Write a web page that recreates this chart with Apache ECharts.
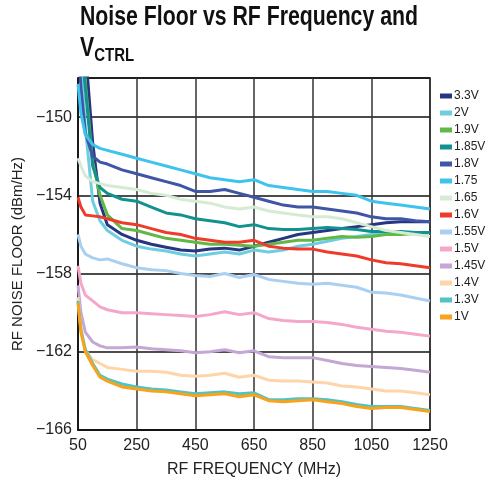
<!DOCTYPE html>
<html>
<head>
<meta charset="utf-8">
<script src="https://cdn.jsdelivr.net/npm/echarts@6/dist/echarts.min.js"></script>
<style>
  html, body { margin: 0; padding: 0; background: #fff; }
  #main { width: 492px; height: 488px; }
</style>
</head>
<body>
<div id="main"></div>
<script>
  var FONT = "'Liberation Sans', Arial, sans-serif";

  // RF frequency (MHz)
  var freq = [50, 60, 75, 100, 125, 150, 200, 250, 300, 350, 400, 450, 500, 550, 600,
              650, 700, 750, 800, 850, 900, 950, 1000, 1050, 1100, 1150, 1200, 1250];

  var xTicks = [50, 250, 450, 650, 850, 1050, 1250];
  var yTicks = [-166, -162, -158, -154, -150];

  var names = ['3.3V', '2V', '1.9V', '1.85V', '1.8V', '1.75', '1.65', '1.6V',
               '1.55V', '1.5V', '1.45V', '1.4V', '1.3V', '1V'];
  var colors = ['#283583', '#6fcde0', '#62b847', '#12928f', '#3f55a5', '#3ec3ec', '#d6ebd3',
                '#ee3b2a', '#a9d0f0', '#f5a7c9', '#c4a7d4', '#fdd5a9', '#4fc3c6', '#f8a31b'];

  // noise floor (dBm/Hz)
  var v3p3 = [-140, -143, -146.5, -151.3, -154.4, -155.5, -156.0, -156.3, -156.5, -156.65, -156.8, -156.85, -156.75, -156.7,
              -156.8, -156.6, -156.4, -156.2, -156.0, -155.9, -155.8, -155.7, -155.6, -155.5, -155.4, -155.35, -155.35, -155.35];
  var v2 = [-144, -147, -150.5, -154.3, -155.3, -155.8, -156.3, -156.6, -156.75, -156.85, -157.0, -157.1, -157.0, -156.9,
            -157.0, -156.8, -156.9, -156.8, -156.6, -156.5, -156.35, -156.2, -156.1, -156.0, -156.0, -155.95, -155.95, -155.9];
  var v1p9 = [-142, -145, -148.2, -152.3, -154.0, -155.0, -155.7, -155.8, -156.0, -156.2, -156.3, -156.4, -156.5, -156.5,
              -156.55, -156.6, -156.5, -156.4, -156.3, -156.3, -156.2, -156.1, -156.15, -156.1, -156.0, -156.0, -155.95, -155.9];
  var v1p85 = [-143, -146, -148.5, -152.5, -153.6, -153.9, -154.2, -154.3, -154.6, -154.9, -155.0, -155.2, -155.3, -155.4,
               -155.6, -155.5, -155.7, -155.75, -155.75, -155.7, -155.65, -155.7, -155.75, -155.85, -155.85, -155.85, -155.9, -155.9];
  var v1p8 = [-146, -148.5, -150.8, -152.0, -152.3, -152.4, -152.7, -152.9, -153.1, -153.3, -153.5, -153.8, -153.8, -153.7,
              -153.9, -154.1, -154.3, -154.5, -154.6, -154.6, -154.7, -154.8, -154.9, -155.1, -155.2, -155.2, -155.3, -155.35];
  var v1p75 = [-148.3, -149.8, -150.9, -151.4, -151.6, -151.7, -151.9, -152.1, -152.3, -152.5, -152.7, -152.9, -153.1, -153.2,
               -153.3, -153.2, -153.5, -153.6, -153.7, -153.8, -153.8, -153.9, -154.0, -154.3, -154.4, -154.5, -154.6, -154.7];
  var v1p65 = [-152.1, -152.5, -153.0, -153.3, -153.4, -153.5, -153.6, -153.7, -153.9, -154.0, -154.2, -154.3, -154.4, -154.6,
               -154.7, -154.6, -154.8, -154.9, -155.0, -155.1, -155.1, -155.2, -155.4, -155.6, -155.8, -155.9, -156.0, -156.1];
  var v1p6 = [-154.1, -154.6, -155.0, -155.05, -155.1, -155.2, -155.4, -155.5, -155.7, -155.9, -156.0, -156.2, -156.3, -156.4,
              -156.4, -156.3, -156.6, -156.7, -156.75, -156.75, -156.9, -157.0, -157.1, -157.3, -157.45, -157.5, -157.6, -157.7];
  var v1p55 = [-156.0, -156.6, -157.0, -157.2, -157.3, -157.25, -157.5, -157.7, -157.8, -157.85, -158.0, -158.1, -158.15, -158.0,
               -158.2, -158.05, -158.3, -158.4, -158.5, -158.55, -158.5, -158.6, -158.7, -158.95, -159.0, -159.1, -159.25, -159.4];
  var v1p5 = [-157.6, -158.5, -159.1, -159.4, -159.7, -159.85, -160.0, -160.0, -160.05, -160.1, -160.15, -160.2, -160.1, -159.95,
              -160.1, -160.0, -160.3, -160.4, -160.45, -160.45, -160.5, -160.6, -160.75, -160.85, -160.95, -161.0, -161.1, -161.2];
  var v1p45 = [-158.6, -160.0, -161.0, -161.5, -161.7, -161.8, -161.8, -161.75, -161.85, -161.9, -161.95, -162.05, -162.0, -161.9,
               -162.05, -161.95, -162.25, -162.3, -162.3, -162.3, -162.45, -162.6, -162.7, -162.75, -162.8, -162.85, -162.95, -163.05];
  var v1p4 = [-159.2, -160.8, -161.9, -162.4, -162.6, -162.8, -162.9, -163.0, -163.0, -163.05, -163.2, -163.25, -163.2, -163.1,
              -163.3, -163.2, -163.45, -163.5, -163.5, -163.55, -163.6, -163.75, -163.8, -163.9, -164.0, -164.0, -164.1, -164.2];
  var v1p3 = [-159.4, -160.9, -161.9, -162.6, -163.2, -163.4, -163.65, -163.8, -163.9, -163.95, -164.05, -164.15, -164.1, -164.05,
              -164.15, -164.1, -164.45, -164.45, -164.4, -164.4, -164.45, -164.55, -164.7, -164.8, -164.8, -164.8, -164.9, -165.0];
  var v1 = [-159.5, -161.0, -162.0, -162.7, -163.3, -163.5, -163.8, -163.9, -164.0, -164.05, -164.15, -164.25, -164.2, -164.15,
            -164.3, -164.2, -164.5, -164.55, -164.5, -164.45, -164.55, -164.65, -164.8, -164.9, -164.85, -164.85, -164.95, -165.05];

  var values = [v3p3, v2, v1p9, v1p85, v1p8, v1p75, v1p65, v1p6, v1p55, v1p5, v1p45, v1p4, v1p3, v1];

  // x axis starts at 50 MHz; plot on an offset scale so ticks fall every 200 MHz
  var X0 = xTicks[0];

  var series = names.map(function (n, k) {
    return {
      name: n,
      type: 'line',
      showSymbol: false,
      color: colors[k],
      lineStyle: { width: 3, color: colors[k] },
      data: freq.map(function (f, i) { return [f - X0, values[k][i]]; })
    };
  });

  // the title font is condensed; squeeze a regular bold face to the same width
  var ctx = document.createElement('canvas').getContext('2d');
  function textW(t, font) { ctx.font = font; return ctx.measureText(t).width; }
  var TFONT = 'bold 27px ' + FONT;
  var SFONT = 'bold 19px ' + FONT;
  var titleScale = 338 / textW('Noise Floor vs RF Frequency and', TFONT);

  var chart = echarts.init(document.getElementById('main'));
  chart.setOption({
    animation: false,
    graphic: [
      { type: 'text', x: 80, y: 4, scaleX: titleScale,
        style: { text: 'Noise Floor vs RF Frequency and', font: TFONT, fill: '#111' } },
      { type: 'text', x: 80, y: 35, scaleX: titleScale,
        style: { text: 'V', font: TFONT, fill: '#111' } },
      { type: 'text', x: 80 + textW('V', TFONT) * titleScale, y: 46, scaleX: titleScale,
        style: { text: 'CTRL', font: SFONT, fill: '#111' } }
    ],
    legend: {
      orient: 'vertical',
      left: 435,
      top: 85,
      itemWidth: 12,
      itemHeight: 5,
      itemGap: 5,
      icon: 'rect',
      textStyle: { fontFamily: FONT, fontSize: 12, color: '#222', padding: [0, 0, 0, -3] },
      data: names
    },
    grid: {
      left: 78, top: 78, right: 62, bottom: 58,
      show: true, borderColor: '#111', borderWidth: 1.5
    },
    xAxis: {
      type: 'value',
      min: 0,
      max: xTicks[xTicks.length - 1] - X0,
      interval: 200,
      name: 'RF FREQUENCY (MHz)',
      nameLocation: 'middle',
      nameGap: 32,
      nameTextStyle: { fontFamily: FONT, fontSize: 16, color: '#222' },
      axisLine: { lineStyle: { color: '#111', width: 1.5 } },
      axisTick: { show: false },
      splitLine: { lineStyle: { color: '#333', width: 1.5 } },
      axisLabel: {
        fontFamily: FONT, fontSize: 16, color: '#222', margin: 8,
        formatter: function (v) { return String(v + X0); }
      }
    },
    yAxis: {
      type: 'value',
      min: yTicks[0],
      max: -148,
      interval: 4,
      name: 'RF NOISE FLOOR (dBm/Hz)',
      nameLocation: 'middle',
      nameGap: 50,
      nameTextStyle: { fontFamily: FONT, fontSize: 15, color: '#222' },
      axisLine: { lineStyle: { color: '#111', width: 1.5 } },
      axisTick: { show: false },
      splitLine: { lineStyle: { color: '#111', width: 1.5 } },
      axisLabel: {
        fontFamily: FONT, fontSize: 16, color: '#222', margin: 6,
        formatter: function (v) {
          if (yTicks.indexOf(v) < 0) return '';
          return '\u2212' + Math.abs(v);
        }
      }
    },
    series: series
  });
</script>
</body>
</html>
